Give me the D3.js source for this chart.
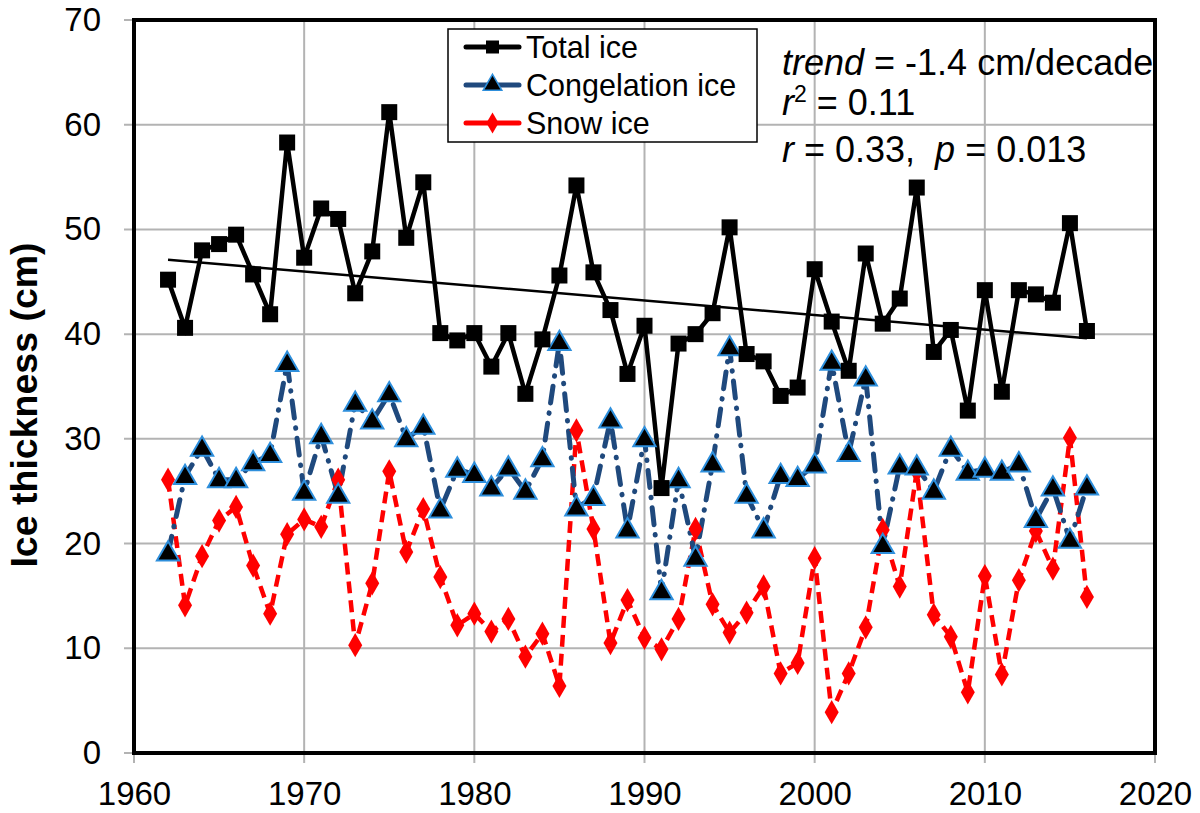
<!DOCTYPE html>
<html><head><meta charset="utf-8">
<script src="https://cdn.jsdelivr.net/npm/d3@7"></script>
<style>body{margin:0;background:#fff}svg{display:block}text{font-family:"Liberation Sans",Arial,sans-serif;white-space:pre}</style>
</head><body>
<script>
const years = d3.range(1962, 2017);
const totalIce = [45.2,40.6,48.0,48.6,49.5,45.7,41.9,58.3,47.3,52.0,51.0,43.9,47.9,61.2,49.2,54.5,40.1,39.4,40.1,36.9,40.1,34.3,39.5,45.6,54.2,45.9,42.3,36.2,40.8,25.3,39.1,40.0,42.0,50.2,38.1,37.4,34.1,34.9,46.2,41.2,36.5,47.7,41.0,43.4,54.0,38.3,40.4,32.7,44.2,34.5,44.2,43.8,43.0,50.6,40.3];
const congelationIce = [19.1,26.4,29.1,26.1,26.1,27.7,28.5,37.2,24.9,30.3,24.6,33.4,31.7,34.3,30.0,31.2,23.2,27.1,26.6,25.3,27.2,25.0,28.1,39.2,23.4,24.4,31.8,21.3,30.0,15.4,26.1,18.6,27.6,38.7,24.6,21.3,26.5,26.2,27.5,37.3,28.6,35.8,19.8,27.4,27.3,25.0,29.1,26.8,27.1,26.8,27.6,22.3,25.3,20.3,25.4];
const snowIce = [26.1,14.1,18.8,22.2,23.5,17.9,13.3,20.9,22.3,21.6,26.1,10.3,16.2,26.9,19.2,23.3,16.8,12.2,13.3,11.6,12.8,9.2,11.4,6.4,30.8,21.4,10.5,14.6,11.0,9.9,12.8,21.4,14.2,11.5,13.4,15.9,7.6,8.6,18.6,3.9,7.6,12.0,21.3,15.9,26.9,13.2,11.1,5.8,16.9,7.5,16.5,21.2,17.6,30.1,14.9];
const trendYears = [1962, 2016];
const trendValues = [47.1, 39.6];
const xTicks = [1960,1970,1980,1990,2000,2010,2020];
const yTicks = [0,10,20,30,40,50,60,70];
const seriesNames = ["Total ice","Congelation ice","Snow ice"];

const W = 1200, H = 813;
const L = 134, R = 1155, T = 20, B = 753;
const svg = d3.select("body").append("svg").attr("width", W).attr("height", H);
const x = d3.scaleLinear().domain([1960, 2020]).range([L, R]);
const y = d3.scaleLinear().domain([0, 70]).range([B, T]);

// gridlines + gray ticks
const grid = svg.append("g");
grid.selectAll(".gx").data(xTicks).join("line")
  .attr("x1", d => x(d)).attr("x2", d => x(d)).attr("y1", T).attr("y2", B + 10)
  .attr("stroke", "#b3b3b3").attr("stroke-width", 2);
grid.selectAll(".gy").data(yTicks).join("line")
  .attr("y1", d => y(d)).attr("y2", d => y(d)).attr("x1", L - 10).attr("x2", R)
  .attr("stroke", "#b3b3b3").attr("stroke-width", 2);

// frame
svg.append("rect").attr("x", L).attr("y", T).attr("width", R - L).attr("height", B - T)
  .attr("fill", "none").attr("stroke", "#000").attr("stroke-width", 4);

// axes labels
const xa = svg.append("g").attr("transform", `translate(0,${B})`)
  .call(d3.axisBottom(x).tickValues(xTicks).tickFormat(d3.format("d")).tickSize(0).tickPadding(29));
xa.select(".domain").remove();
xa.selectAll("text").attr("font-size", 33).attr("fill", "#000").attr("font-family", "Liberation Sans, Arial, sans-serif");
const ya = svg.append("g").attr("transform", `translate(${L},0)`)
  .call(d3.axisLeft(y).tickValues(yTicks).tickSize(0).tickPadding(33));
ya.select(".domain").remove();
ya.selectAll("text").attr("font-size", 33).attr("fill", "#000").attr("font-family", "Liberation Sans, Arial, sans-serif");

svg.append("text").attr("transform", `translate(37,405) rotate(-90)`)
  .attr("text-anchor", "middle").attr("font-size", 37.5).attr("font-weight", "bold").text("Ice thickness (cm)");

const line = d3.line().x((d, i) => x(years[i])).y(d => y(d));

// snow ice
svg.append("path").datum(snowIce).attr("d", line).attr("fill", "none")
  .attr("stroke", "#ff0000").attr("stroke-width", 4.5).attr("stroke-dasharray", "12,7");
// congelation
svg.append("path").datum(congelationIce).attr("d", line).attr("fill", "none")
  .attr("stroke", "#1f497d").attr("stroke-width", 5).attr("stroke-linecap", "round")
  .attr("stroke-dasharray", "17,10,0.5,10");
// total
svg.append("path").datum(totalIce).attr("d", line).attr("fill", "none")
  .attr("stroke", "#000").attr("stroke-width", 4.5);
// trend
svg.append("line").attr("x1", x(trendYears[0])).attr("y1", y(trendValues[0]))
  .attr("x2", x(trendYears[1])).attr("y2", y(trendValues[1]))
  .attr("stroke", "#000").attr("stroke-width", 2.5);

// markers
const tri = d3.symbol().type(d3.symbolTriangle).size(215);
const dia = d3.symbol().type(d3.symbolDiamond).size(170);
svg.append("g").selectAll("path").data(snowIce).join("path")
  .attr("d", dia).attr("transform", (d, i) => `translate(${x(years[i])},${y(d)})`)
  .attr("fill", "#ff0000");
svg.append("g").selectAll("path").data(congelationIce).join("path")
  .attr("d", tri).attr("transform", (d, i) => `translate(${x(years[i])},${y(d) + 1})`)
  .attr("fill", "#000").attr("stroke", "#2e8fdc").attr("stroke-width", 2);
svg.append("g").selectAll("rect").data(totalIce).join("rect")
  .attr("x", (d, i) => x(years[i]) - 8).attr("y", d => y(d) - 8)
  .attr("width", 16).attr("height", 16).attr("fill", "#000");

// legend
const lg = svg.append("g");
lg.append("rect").attr("x", 448).attr("y", 29).attr("width", 309).attr("height", 113)
  .attr("fill", "#fff").attr("stroke", "#000").attr("stroke-width", 1.5);
const ly = [47, 85, 123];
const lstyles = [
  {stroke: "#000", sym: "sq"},
  {stroke: "#1f497d", sym: "tri"},
  {stroke: "#ff0000", sym: "dia"}];
seriesNames.forEach((n, i) => {
  const s = lstyles[i];
  lg.append("line").attr("x1", 466).attr("x2", 519).attr("y1", ly[i]).attr("y2", ly[i])
    .attr("stroke", s.stroke).attr("stroke-width", 5).attr("stroke-linecap", "round");
  if (s.sym === "sq") lg.append("rect").attr("x", 486).attr("y", ly[i] - 6.5).attr("width", 13).attr("height", 13).attr("fill", "#000");
  if (s.sym === "tri") lg.append("path").attr("d", d3.symbol().type(d3.symbolTriangle).size(150)).attr("transform", `translate(492.5,${ly[i]})`).attr("fill", "#000").attr("stroke", "#2e8fdc").attr("stroke-width", 1.5);
  if (s.sym === "dia") lg.append("path").attr("d", d3.symbol().type(d3.symbolDiamond).size(130)).attr("transform", `translate(492.5,${ly[i]})`).attr("fill", "#ff0000");
  lg.append("text").attr("x", 526).attr("y", ly[i] + 11).attr("font-size", 30.5).text(n);
});

// annotations
const an = svg.append("g").attr("font-size", 36);
const t1 = an.append("text").attr("x", 782).attr("y", 75);
t1.append("tspan").attr("font-style", "italic").text("trend");
t1.append("tspan").text(" = -1.4 cm/decade");
const t2 = an.append("text").attr("x", 782).attr("y", 115);
t2.append("tspan").attr("font-style", "italic").text("r");
t2.append("tspan").attr("font-size", 23).attr("dy", -13).text("2");
t2.append("tspan").attr("dy", 13).text(" = 0.11");
const t3 = an.append("text").attr("x", 782).attr("y", 162);
t3.append("tspan").attr("font-style", "italic").text("r");
t3.append("tspan").text(" = 0.33,  ");
t3.append("tspan").attr("font-style", "italic").text("p");
t3.append("tspan").text(" = 0.013");
</script>
</body></html>
